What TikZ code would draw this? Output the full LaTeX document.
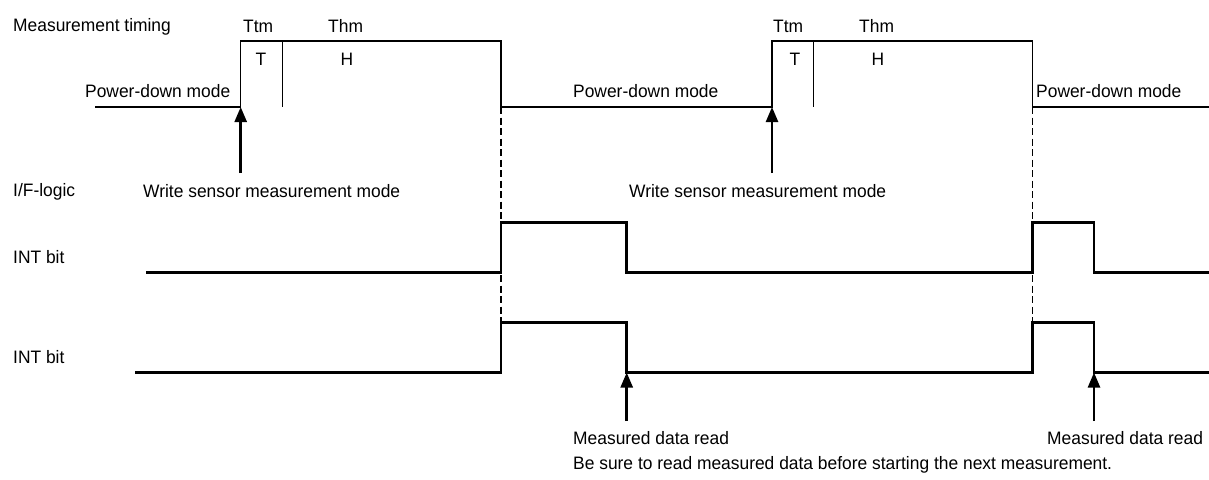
\documentclass[tikz,border=0pt]{standalone}
\usepackage{fontspec}
\setmainfont{Liberation Sans}
\usetikzlibrary{arrows.meta}
\newcommand{\nlb}[1]{\scalebox{0.967}[1]{#1}}
\begin{document}
\begin{tikzpicture}[x=1pt,y=-1pt,
  lbl/.style={inner sep=0pt, anchor=base west, font=\fontsize{18}{21}\selectfont},
  clbl/.style={lbl, anchor=base},
  thinwave/.style={line width=1.3pt},
  intwave/.style={line width=2.5pt},
  guide/.style={line width=1.5pt, dash pattern=on 7pt off 3.5pt},
  marker/.style={line width=2.5pt, -{Triangle[width=12pt,length=15pt]}}]
\useasboundingbox (0,0) rectangle (1209,479);

% labels on the left
\node[lbl] (mt) at (13,31.5) {\nlb{Measurement timing}};
\node[lbl] (ifl) at (13,196) {\nlb{I/F-logic}};
\node[lbl] (int1) at (13,263) {\nlb{INT bit}};
\node[lbl] (int2) at (13,363) {\nlb{INT bit}};

% top waveform
\draw[thinwave] (95,107) -- (240.7,107) -- (240.7,41) -- (501,41) -- (501,107)
  -- (772,107) -- (772,41) -- (1032.6,41) -- (1032.6,107) -- (1209,107);
\draw[thinwave] (282.7,41) -- (282.7,107);
\draw[thinwave] (813.5,41) -- (813.5,107);

\node[lbl] (ttm1) at (243,32) {\nlb{Ttm}};
\node[lbl] (thm1) at (328,32) {\nlb{Thm}};
\node[lbl] (ttm2) at (773,32) {\nlb{Ttm}};
\node[lbl] (thm2) at (859,32) {\nlb{Thm}};
\node[clbl] (t1) at (261,65) {\nlb{T}};
\node[clbl] (h1) at (347,65) {\nlb{H}};
\node[clbl] (t2) at (795,65) {\nlb{T}};
\node[clbl] (h2) at (878,65) {\nlb{H}};

\node[lbl] (pd1) at (85,97) {\nlb{Power-down mode}};
\node[lbl] (pd2) at (573,97) {\nlb{Power-down mode}};
\node[lbl] (pd3) at (1036,97) {\nlb{Power-down mode}};

% write arrows
\coordinate (wa1) at (240.7,107);
\coordinate (wb1) at (240.7,173);
\coordinate (wa2) at (772,107);
\coordinate (wb2) at (772,173);
\draw[marker] (wb1) -- (wa1);
\draw[marker] (wb2) -- (wa2);
\node[lbl] (wr1) at (143,197) {\nlb{Write sensor measurement mode}};
\node[lbl] (wr2) at (629,197) {\nlb{Write sensor measurement mode}};

% dashed guides
\coordinate (g1a) at (501,107);
\coordinate (g1b) at (501,322.7);
\coordinate (g2a) at (1032.6,107);
\coordinate (g2b) at (1032.6,322.7);
\draw[guide] (g1a) -- (g1b);
\draw[guide] (g2a) -- (g2b);

% INT bit waveforms
\draw[intwave] (146,272.7) -- (501,272.7) -- (501,222.7) -- (626.7,222.7) -- (626.7,272.7)
  -- (1032.6,272.7) -- (1032.6,222.7) -- (1094,222.7) -- (1094,272.7) -- (1209,272.7);
\draw[intwave] (135,372.5) -- (501,372.5) -- (501,322.7) -- (626.7,322.7) -- (626.7,372.5)
  -- (1032.6,372.5) -- (1032.6,322.7) -- (1094,322.7) -- (1094,372.5) -- (1209,372.5);

% read arrows
\coordinate (ra1) at (626.7,372.5);
\coordinate (rb1) at (626.7,421);
\coordinate (ra2) at (1094,372.5);
\coordinate (rb2) at (1094,421);
\draw[marker] (rb1) -- (ra1);
\draw[marker] (rb2) -- (ra2);
\node[lbl] (md1) at (573,444) {\nlb{Measured data read}};
\node[lbl] (md2) at (1047,444) {\nlb{Measured data read}};
\node[lbl] (note) at (573,469) {\nlb{Be sure to read measured data before starting the next measurement.}};
\end{tikzpicture}
\end{document}
